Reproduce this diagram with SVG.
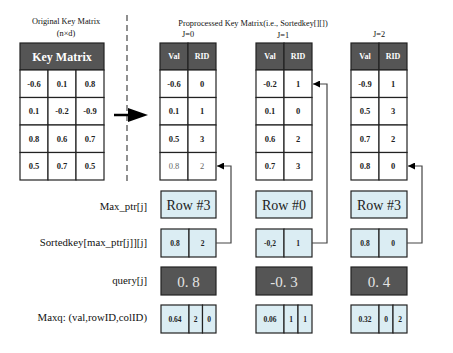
<svg xmlns="http://www.w3.org/2000/svg" width="453" height="353" viewBox="0 0 453 353">
<style>
text{font-family:"Liberation Serif","Times New Roman",serif;}
.cell{fill:#fff;stroke:#222;stroke-width:1.2;}
.hdr{fill:#555;stroke:#222;stroke-width:1.2;}
.blue{fill:#dbedf3;stroke:#222;stroke-width:1.2;}
.dark{fill:#555;stroke:#222;stroke-width:1.2;}
.v{font-size:8.5px;font-weight:bold;fill:#222;text-anchor:middle;}
.s{font-size:7.5px;font-weight:bold;fill:#222;text-anchor:middle;}
.g{font-size:8.5px;fill:#666;text-anchor:middle;}
.h{font-size:8px;font-weight:bold;fill:#fff;text-anchor:middle;}
.t{font-size:8.3px;fill:#111;text-anchor:middle;}
.lab{font-size:10.8px;fill:#111;text-anchor:end;}
.row{font-size:14px;fill:#222;text-anchor:middle;}
.q{font-size:15px;fill:#e4e4e4;text-anchor:middle;}
.conn{fill:none;stroke:#444;stroke-width:1.2;}
</style>
<defs>
<marker id="ah" viewBox="0 0 10 10" refX="10" refY="5" markerWidth="7" markerHeight="7" markerUnits="userSpaceOnUse" orient="auto"><path d="M0,0 L10,5 L0,10 z" fill="#000"/></marker>
</defs>
<rect width="453" height="353" fill="#fff"/>

<g id="titles">
<text class="t" x="66" y="24">Original Key Matrix</text>
<text class="t" x="66" y="36">(n×d)</text>
<text class="t" x="253" y="26">Proprocessed Key Matrix(i.e., Sortedkey[][])</text>
<text class="t" x="188" y="37">J=0</text>
<text class="t" x="283" y="38">J=1</text>
<text class="t" x="379" y="37">J=2</text>
</g>

<g id="divider">
<line x1="127" y1="15" x2="127" y2="182" stroke="#555" stroke-width="1.3" stroke-dasharray="6,4"/>
<line x1="114" y1="115" x2="132" y2="115" stroke="#000" stroke-width="2.5"/>
<path d="M128,108 L148,115 L128,122 z" fill="#000"/>
</g>

<g id="key-matrix">
<rect class="hdr" x="20" y="43" width="84" height="27"/>
<text x="62" y="61" font-size="12" font-weight="bold" fill="#fff" text-anchor="middle">Key Matrix</text>
<rect class="cell" x="20" y="70" width="28" height="27.5"/><rect class="cell" x="48" y="70" width="28" height="27.5"/><rect class="cell" x="76" y="70" width="28" height="27.5"/>
<rect class="cell" x="20" y="97.5" width="28" height="27.5"/><rect class="cell" x="48" y="97.5" width="28" height="27.5"/><rect class="cell" x="76" y="97.5" width="28" height="27.5"/>
<rect class="cell" x="20" y="125" width="28" height="27.5"/><rect class="cell" x="48" y="125" width="28" height="27.5"/><rect class="cell" x="76" y="125" width="28" height="27.5"/>
<rect class="cell" x="20" y="152.5" width="28" height="27.5"/><rect class="cell" x="48" y="152.5" width="28" height="27.5"/><rect class="cell" x="76" y="152.5" width="28" height="27.5"/>
<text class="v" x="34" y="87">-0.6</text><text class="v" x="62" y="87">0.1</text><text class="v" x="90" y="87">0.8</text>
<text class="v" x="34" y="114">0.1</text><text class="v" x="62" y="114">-0.2</text><text class="v" x="90" y="114">-0.9</text>
<text class="v" x="34" y="142">0.8</text><text class="v" x="62" y="142">0.6</text><text class="v" x="90" y="142">0.7</text>
<text class="v" x="34" y="169">0.5</text><text class="v" x="62" y="169">0.7</text><text class="v" x="90" y="169">0.5</text>
</g>

<g id="sorted-j0">
<rect class="hdr" x="160" y="43" width="28" height="27"/><rect class="hdr" x="188" y="43" width="28" height="27"/>
<text class="h" x="174" y="59">Val</text><text class="h" x="202" y="59">RID</text>
<rect class="cell" x="160" y="70" width="28" height="27.5"/><rect class="cell" x="188" y="70" width="28" height="27.5"/>
<rect class="cell" x="160" y="97.5" width="28" height="27.5"/><rect class="cell" x="188" y="97.5" width="28" height="27.5"/>
<rect class="cell" x="160" y="125" width="28" height="27.5"/><rect class="cell" x="188" y="125" width="28" height="27.5"/>
<rect class="cell" x="160" y="152.5" width="28" height="27.5"/><rect class="cell" x="188" y="152.5" width="28" height="27.5"/>
<text class="v" x="174" y="87">-0.6</text><text class="v" x="202" y="87">0</text>
<text class="v" x="174" y="114">0.1</text><text class="v" x="202" y="114">1</text>
<text class="v" x="174" y="142">0.5</text><text class="v" x="202" y="142">3</text>
<text class="g" x="174" y="169">0.8</text><text class="g" x="202" y="169">2</text>
</g>

<g id="sorted-j1">
<rect class="hdr" x="256" y="43" width="28" height="27"/><rect class="hdr" x="284" y="43" width="28" height="27"/>
<text class="h" x="270" y="59">Val</text><text class="h" x="298" y="59">RID</text>
<rect class="cell" x="256" y="70" width="28" height="27.5"/><rect class="cell" x="284" y="70" width="28" height="27.5"/>
<rect class="cell" x="256" y="97.5" width="28" height="27.5"/><rect class="cell" x="284" y="97.5" width="28" height="27.5"/>
<rect class="cell" x="256" y="125" width="28" height="27.5"/><rect class="cell" x="284" y="125" width="28" height="27.5"/>
<rect class="cell" x="256" y="152.5" width="28" height="27.5"/><rect class="cell" x="284" y="152.5" width="28" height="27.5"/>
<text class="v" x="270" y="87">-0.2</text><text class="v" x="298" y="87">1</text>
<text class="v" x="270" y="114">0.1</text><text class="v" x="298" y="114">0</text>
<text class="v" x="270" y="142">0.6</text><text class="v" x="298" y="142">2</text>
<text class="v" x="270" y="169">0.7</text><text class="v" x="298" y="169">3</text>
</g>

<g id="sorted-j2">
<rect class="hdr" x="351" y="43" width="28" height="27"/><rect class="hdr" x="379" y="43" width="28" height="27"/>
<text class="h" x="365" y="59">Val</text><text class="h" x="393" y="59">RID</text>
<rect class="cell" x="351" y="70" width="28" height="27.5"/><rect class="cell" x="379" y="70" width="28" height="27.5"/>
<rect class="cell" x="351" y="97.5" width="28" height="27.5"/><rect class="cell" x="379" y="97.5" width="28" height="27.5"/>
<rect class="cell" x="351" y="125" width="28" height="27.5"/><rect class="cell" x="379" y="125" width="28" height="27.5"/>
<rect class="cell" x="351" y="152.5" width="28" height="27.5"/><rect class="cell" x="379" y="152.5" width="28" height="27.5"/>
<text class="v" x="365" y="87">-0.9</text><text class="v" x="393" y="87">1</text>
<text class="v" x="365" y="114">0.5</text><text class="v" x="393" y="114">3</text>
<text class="v" x="365" y="142">0.7</text><text class="v" x="393" y="142">2</text>
<text class="v" x="365" y="169">0.8</text><text class="v" x="393" y="169">0</text>
</g>

<g id="labels">
<text class="lab" x="147" y="210">Max_ptr[j]</text>
<text class="lab" x="147" y="246">Sortedkey[max_ptr[j]][j]</text>
<text class="lab" x="147" y="284">query[j]</text>
<text class="lab" x="147" y="321">Maxq: (val,rowID,colID)</text>
</g>

<g id="maxptr-j0"><rect class="blue" x="161" y="191" width="55" height="27"/><text class="row" x="188.5" y="209.5">Row #3</text></g>
<g id="maxptr-j1"><rect class="blue" x="256" y="191" width="56" height="27"/><text class="row" x="284" y="209.5">Row #0</text></g>
<g id="maxptr-j2"><rect class="blue" x="351" y="191" width="56" height="27"/><text class="row" x="379" y="209.5">Row #3</text></g>

<g id="sk-j0"><rect class="blue" x="161" y="229" width="28" height="28"/><rect class="blue" x="189" y="229" width="27" height="28"/><text class="s" x="175" y="246">0.8</text><text class="s" x="202.5" y="246">2</text></g>
<g id="sk-j1"><rect class="blue" x="256" y="229" width="28" height="28"/><rect class="blue" x="284" y="229" width="28" height="28"/><text class="s" x="270" y="246">-0,2</text><text class="s" x="298" y="246">1</text></g>
<g id="sk-j2"><rect class="blue" x="351" y="229" width="28" height="28"/><rect class="blue" x="379" y="229" width="28" height="28"/><text class="s" x="365" y="246">0.8</text><text class="s" x="393" y="246">0</text></g>

<g id="q-j0"><rect class="dark" x="161" y="267" width="55" height="28"/><text class="q" x="188.5" y="286.5">0. 8</text></g>
<g id="q-j1"><rect class="dark" x="256" y="267" width="56" height="28"/><text class="q" x="284" y="286.5">-0. 3</text></g>
<g id="q-j2"><rect class="dark" x="351" y="267" width="56" height="28"/><text class="q" x="379" y="286.5">0. 4</text></g>

<g id="maxq-j0"><rect class="blue" x="161" y="305" width="28" height="28"/><rect class="blue" x="189" y="305" width="13.5" height="28"/><rect class="blue" x="202.5" y="305" width="13.5" height="28"/><text class="s" x="175" y="322">0.64</text><text class="s" x="195.7" y="322">2</text><text class="s" x="209.2" y="322">0</text></g>
<g id="maxq-j1"><rect class="blue" x="256" y="305" width="28" height="28"/><rect class="blue" x="284" y="305" width="14" height="28"/><rect class="blue" x="298" y="305" width="14" height="28"/><text class="s" x="270" y="322">0.06</text><text class="s" x="291" y="322">1</text><text class="s" x="305" y="322">1</text></g>
<g id="maxq-j2"><rect class="blue" x="351" y="305" width="28" height="28"/><rect class="blue" x="379" y="305" width="14" height="28"/><rect class="blue" x="393" y="305" width="14" height="28"/><text class="s" x="365" y="322">0.32</text><text class="s" x="386" y="322">0</text><text class="s" x="400" y="322">2</text></g>

<g id="connectors">
<path class="conn" d="M216,243 H231 V166 H217" marker-end="url(#ah)"/>
<path class="conn" d="M312,243 H327 V84 H313" marker-end="url(#ah)"/>
<path class="conn" d="M407,243 H422 V166 H408" marker-end="url(#ah)"/>
</g>
</svg>
